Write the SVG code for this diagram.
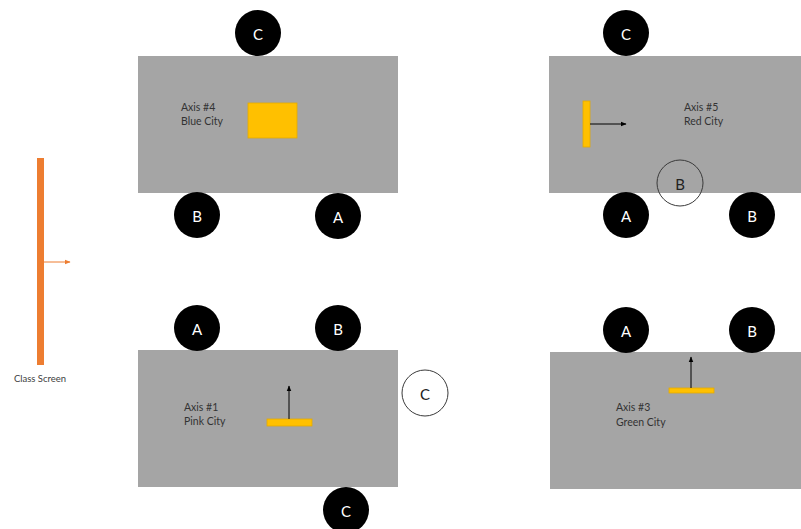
<svg xmlns="http://www.w3.org/2000/svg" width="801" height="529" viewBox="0 0 801 529">
  <defs>
    <style>
      .table { fill: #a5a5a5; }
      .seat { fill: #000000; }
      .seat-open { fill: none; stroke: #3a3a3a; stroke-width: 1; }
      .seat-label { font-family: Lato, "Open Sans", sans-serif; font-size: 15px; fill: #ffffff; text-anchor: middle; dominant-baseline: central; }
      .seat-open-label { font-family: Lato, "Open Sans", sans-serif; font-size: 15px; fill: #222222; text-anchor: middle; dominant-baseline: central; }
      .name { font-family: Lato, "Open Sans", sans-serif; font-size: 10.5px; fill: #333333; }
      .screen-label { font-family: Lato, "Open Sans", sans-serif; font-size: 9.5px; fill: #404040; text-anchor: middle; }
      .bar { fill: #ffc000; stroke: #e3ab00; stroke-width: 0.8; }
      .dir { stroke: #000000; stroke-width: 1; fill: none; }
    </style>
    <marker id="head" viewBox="0 0 10 10" refX="9" refY="5" markerWidth="6" markerHeight="6" orient="auto">
      <path d="M0,1 L10,5 L0,9 Z" fill="#000000"/>
    </marker>
    <marker id="head-orange" viewBox="0 0 10 10" refX="9" refY="5" markerWidth="6" markerHeight="6" orient="auto">
      <path d="M0,1 L10,5 L0,9 Z" fill="#ed7d31"/>
    </marker>
  </defs>

  <!-- Class screen on the left -->
  <g id="class-screen">
    <rect x="37" y="158" width="7" height="207" fill="#ed7d31"/>
    <text class="screen-label" x="40" y="382">Class Screen</text>
  </g>

  <!-- Axis #4 - Blue City -->
  <g id="axis4">
    <rect class="table" x="138" y="56" width="260" height="137"/>
    <rect class="bar" x="248" y="103" width="49" height="35"/>
    <text class="name" x="181" y="111">Axis #4</text>
    <text class="name" x="181" y="125">Blue City</text>
  </g>
  <g id="axis4-seat-c"><circle class="seat" cx="258" cy="33" r="23"/><text class="seat-label" x="258" y="34">C</text></g>
  <g id="axis4-seat-b"><circle class="seat" cx="197" cy="215" r="23"/><text class="seat-label" x="197" y="216">B</text></g>
  <g id="axis4-seat-a"><circle class="seat" cx="338" cy="216" r="23"/><text class="seat-label" x="338" y="217">A</text></g>

  <!-- Axis #5 - Red City -->
  <g id="axis5">
    <rect class="table" x="549" y="56" width="252" height="137"/>
    <rect class="bar" x="583" y="101" width="7" height="46"/>
    <text class="name" x="684" y="111">Axis #5</text>
    <text class="name" x="684" y="125">Red City</text>
  </g>
  <g id="axis5-seat-c"><circle class="seat" cx="626" cy="33" r="23"/><text class="seat-label" x="626" y="34">C</text></g>
  <g id="axis5-seat-b-open"><circle class="seat-open" cx="680" cy="183" r="23"/><text class="seat-open-label" x="680" y="184">B</text></g>
  <g id="axis5-seat-a"><circle class="seat" cx="626" cy="215" r="23"/><text class="seat-label" x="626" y="216">A</text></g>
  <g id="axis5-seat-b"><circle class="seat" cx="752" cy="215" r="23"/><text class="seat-label" x="752" y="216">B</text></g>

  <!-- Axis #1 - Pink City -->
  <g id="axis1">
    <rect class="table" x="138" y="350" width="260" height="137"/>
    <rect class="bar" x="267" y="419" width="45" height="7"/>
    <text class="name" x="184" y="411">Axis #1</text>
    <text class="name" x="184" y="425">Pink City</text>
  </g>
  <g id="axis1-seat-a"><circle class="seat" cx="197" cy="328" r="23"/><text class="seat-label" x="197" y="329">A</text></g>
  <g id="axis1-seat-b"><circle class="seat" cx="338" cy="328" r="23"/><text class="seat-label" x="338" y="329">B</text></g>
  <g id="axis1-seat-c-open"><circle class="seat-open" cx="425" cy="393" r="23"/><text class="seat-open-label" x="425" y="394">C</text></g>
  <g id="axis1-seat-c"><circle class="seat" cx="346" cy="510" r="23"/><text class="seat-label" x="346" y="511">C</text></g>

  <!-- Axis #3 - Green City -->
  <g id="axis3">
    <rect class="table" x="550" y="352" width="251" height="137"/>
    <rect class="bar" x="669" y="388" width="45" height="5"/>
    <text class="name" x="616" y="411">Axis #3</text>
    <text class="name" x="616" y="426">Green City</text>
  </g>
  <g id="axis3-seat-a"><circle class="seat" cx="626" cy="330" r="23"/><text class="seat-label" x="626" y="331">A</text></g>
  <g id="axis3-seat-b"><circle class="seat" cx="752" cy="330" r="23"/><text class="seat-label" x="752" y="331">B</text></g>

  <!-- Facing-direction arrows -->
  <g id="connectors">
    <line x1="44" y1="262" x2="70" y2="262" stroke="#ed7d31" stroke-width="1" marker-end="url(#head-orange)"/>
    <line class="dir" x1="590" y1="124" x2="626" y2="124" marker-end="url(#head)"/>
    <line class="dir" x1="289" y1="419" x2="289" y2="386" marker-end="url(#head)"/>
    <line class="dir" x1="691" y1="388" x2="691" y2="357" marker-end="url(#head)"/>
  </g>
</svg>
